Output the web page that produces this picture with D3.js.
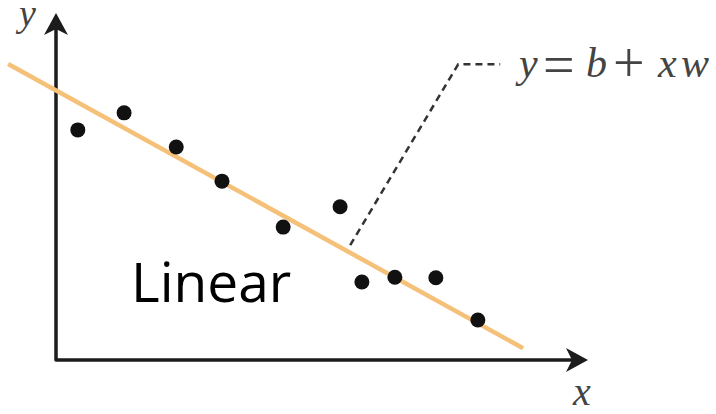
<!DOCTYPE html>
<html>
<head>
<meta charset="utf-8">
<script src="https://cdn.jsdelivr.net/npm/d3@7"></script>
</head>
<body style="margin:0">
<script>
// Observations (x, y)
const pointX = [0.41, 1.28, 2.26, 3.12, 4.27, 5.34, 5.75, 6.37, 7.14, 7.93];
const pointY = [4.31, 4.63, 3.99, 3.35, 2.49, 2.87, 1.46, 1.55, 1.54, 0.75];

// Fitted line y = b + x w
const intercept = 5.05;
const slope = -0.55;
const fitRange = [-0.9, 8.78];

// Leader from the fitted line to its equation label
const leaderX = [5.53, 7.56, 8.35];
const leaderY = [2.15, 5.54, 5.54];

// Axis extents
const xMax = 10;
const yMax = 6.5;

// Equation tokens
const eqTokens = ["y", "=", "b", "+", "x", "w"];

const W = 716, H = 414;
const svg = d3.select("body").append("svg")
  .attr("width", W).attr("height", H)
  .style("display", "block");

const x = d3.scaleLinear().domain([0, xMax]).range([56, 588]);
const y = d3.scaleLinear().domain([0, yMax]).range([360, 13]);

const axisColor = "#1c1c1c";
const mathColor = "#444";
const mathFont = '"Times New Roman"';

// Axes: single L-shaped stroke, ending under the arrowheads
const tipLen = 22, tipHalf = 12, notch = 6;
svg.append("path")
  .attr("d", d3.line()([
    [x(0), y(yMax) + tipLen - notch],
    [x(0), y(0)],
    [x(xMax) - tipLen + notch, y(0)]
  ]))
  .attr("fill", "none")
  .attr("stroke", axisColor)
  .attr("stroke-width", 3.5)
  .attr("stroke-linejoin", "round");

// Arrowheads
function arrow(tx, ty, angle) {
  const p = d3.path();
  p.moveTo(0, 0);
  p.lineTo(-tipLen, -tipHalf);
  p.lineTo(-tipLen + notch, 0);
  p.lineTo(-tipLen, tipHalf);
  p.closePath();
  svg.append("path")
    .attr("d", p.toString())
    .attr("transform", `translate(${tx},${ty}) rotate(${angle})`)
    .attr("fill", axisColor);
}
arrow(x(xMax), y(0), 0);
arrow(x(0), y(yMax), -90);

// Fitted line
svg.append("path")
  .attr("d", d3.line().x(d => x(d)).y(d => y(intercept + slope * d))(fitRange))
  .attr("fill", "none")
  .attr("stroke", "#f5c078")
  .attr("stroke-width", 4.5);

// Points
svg.append("g").selectAll("circle")
  .data(pointX.map((v, i) => [v, pointY[i]]))
  .join("circle")
  .attr("cx", d => x(d[0]))
  .attr("cy", d => y(d[1]))
  .attr("r", 7.5)
  .attr("fill", "#111");

// Leader line
svg.append("path")
  .attr("d", d3.line().x(d => x(d[0])).y(d => y(d[1]))(leaderX.map((v, i) => [v, leaderY[i]])))
  .attr("fill", "none")
  .attr("stroke", "#333")
  .attr("stroke-width", 2.5)
  .attr("stroke-dasharray", "7,5");

// Equation label y = b + xw, one text element with a tspan per symbol
const eqLeft = [519, 543, 586, 613, 658, 681];
const eqIsOp = t => t === "=" || t === "+";
const eq = svg.append("text")
  .style("font-family", mathFont)
  .style("font-style", "italic")
  .attr("font-size", 42)
  .attr("fill", mathColor);
eq.selectAll("tspan")
  .data(eqTokens)
  .join("tspan")
  .attr("x", (d, i) => eqLeft[i])
  .attr("y", d => d === "=" ? 84 : d === "+" ? 82 : 77)
  .style("font-style", d => eqIsOp(d) ? "normal" : "italic")
  .attr("font-size", d => eqIsOp(d) ? 56 : 42)
  .text(d => d);

// Axis labels
svg.append("text")
  .attr("x", 19).attr("y", 26)
  .style("font-family", mathFont)
  .style("font-style", "italic")
  .attr("font-size", 38)
  .attr("fill", mathColor)
  .text("y");

svg.append("text")
  .attr("x", 573).attr("y", 405)
  .style("font-family", mathFont)
  .style("font-style", "italic")
  .attr("font-size", 40)
  .attr("fill", mathColor)
  .text("x");

// Title
svg.append("text")
  .attr("x", 131).attr("y", 302)
  .style("font-family", '"Open Sans"')
  .attr("font-size", 55)
  .attr("fill", "#000")
  .text("Linear");
</script>
</body>
</html>
